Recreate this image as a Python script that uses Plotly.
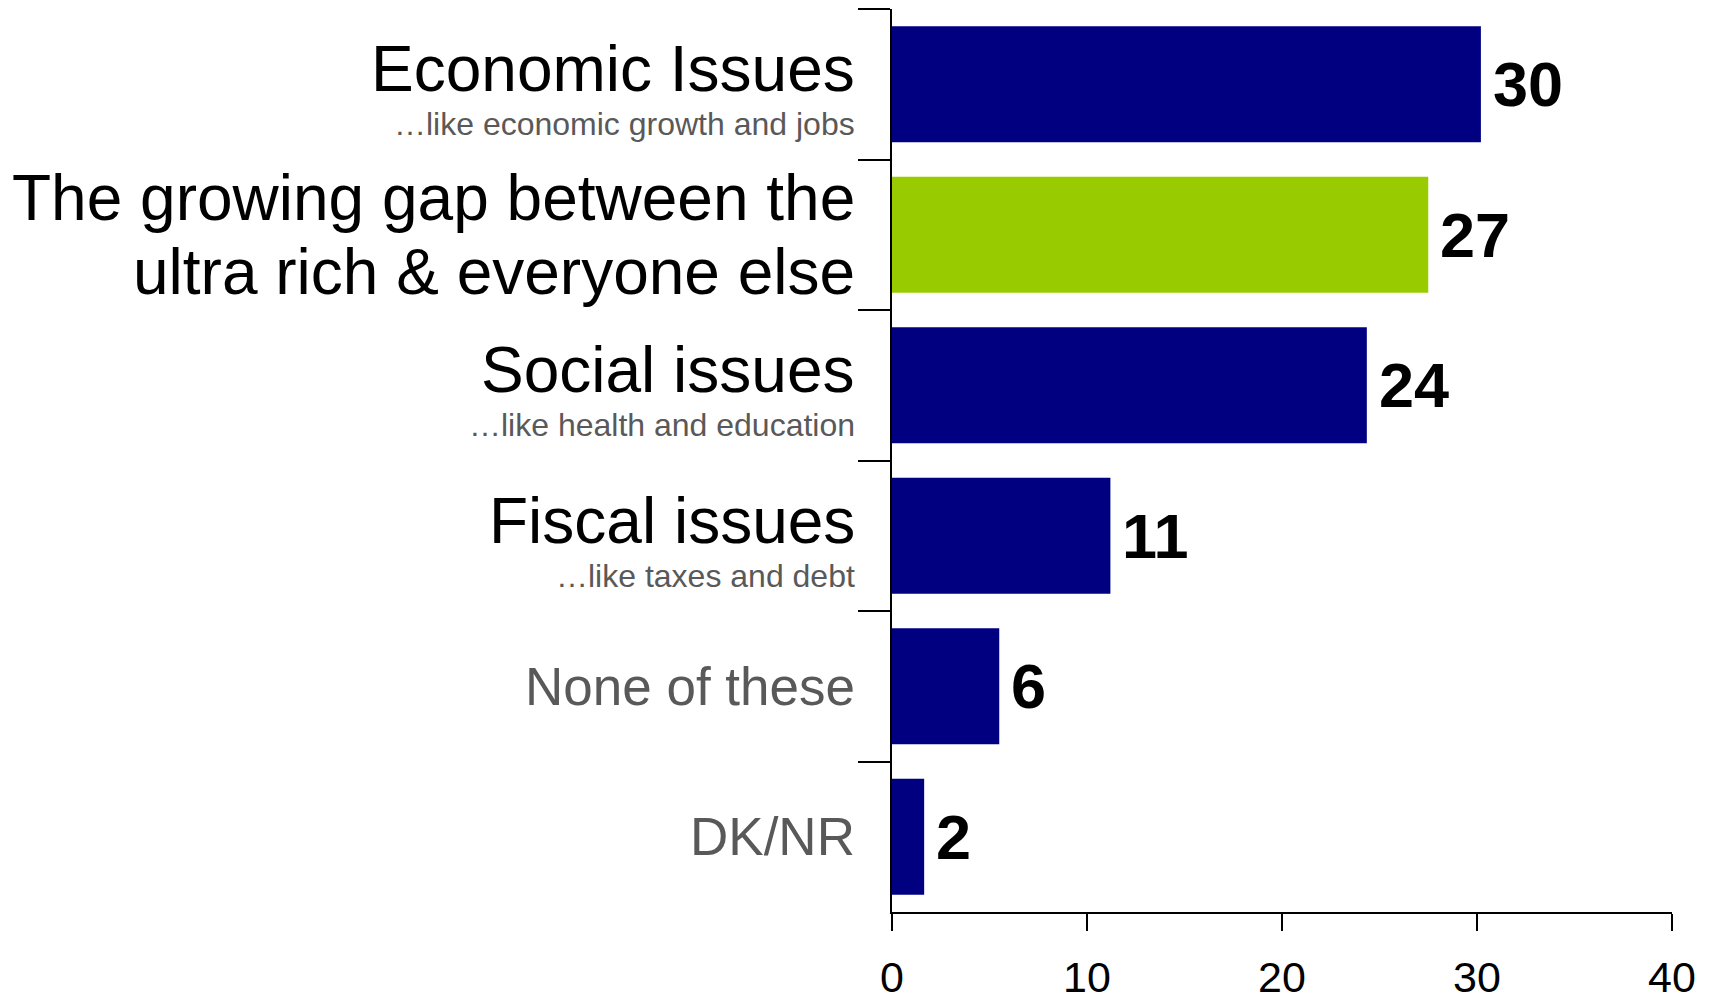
import plotly.graph_objects as go

categories = ["Economic Issues", "The growing gap", "Social issues", "Fiscal issues", "None of these", "DK/NR"]
main_lines = [
    ["Economic Issues"],
    ["The growing gap between the", "ultra rich &amp; everyone else"],
    ["Social issues"],
    ["Fiscal issues"],
    ["None of these"],
    ["DK/NR"],
]
sub_labels = ["…like economic growth and jobs", "", "…like health and education", "…like taxes and debt", "", ""]
values = [30.2, 27.5, 24.35, 11.2, 5.5, 1.65]
value_labels = ["30", "27", "24", "11", "6", "2"]
bar_colors = ["#000080", "#99CC00", "#000080", "#000080", "#000080", "#000080"]
x_ticks = [0, 10, 20, 30, 40]

FONT = "Liberation Sans, Arial, sans-serif"

fig = go.Figure(go.Bar(
    x=values, y=categories, orientation="h",
    marker=dict(color=bar_colors, line=dict(width=0)),
    width=0.77, hoverinfo="skip",
))

ann = []
for i, cat in enumerate(categories):
    lines = main_lines[i]
    gray = cat in ("None of these", "DK/NR")
    if len(lines) == 2:
        shifts = [37, -37]
    elif sub_labels[i]:
        shifts = [15]
    else:
        shifts = [0]
    for ln, sh in zip(lines, shifts):
        ann.append(dict(
            x=0, y=cat, xref="x", yref="y", text=ln, showarrow=False,
            xanchor="right", yanchor="middle", xshift=-35, yshift=sh,
            font=dict(family=FONT, size=53 if gray else 64, color="#595959" if gray else "#000000"),
        ))
    if sub_labels[i]:
        ann.append(dict(
            x=0, y=cat, xref="x", yref="y", text=sub_labels[i], showarrow=False,
            xanchor="right", yanchor="middle", xshift=-35, yshift=-40,
            font=dict(family=FONT, size=32, color="#595959"),
        ))
    ann.append(dict(
        x=values[i], y=cat, xref="x", yref="y", text="<b>" + value_labels[i] + "</b>",
        showarrow=False, xanchor="left", yanchor="middle", xshift=10,
        font=dict(family=FONT, size=63, color="#000000"),
    ))

fig.update_layout(
    template="none",
    width=1703, height=988, autosize=False,
    margin=dict(l=883.5, r=39, t=1, b=84, pad=0, autoexpand=False),
    paper_bgcolor="white", plot_bgcolor="white",
    showlegend=False, annotations=ann,
    xaxis=dict(range=[0, 40], tickvals=x_ticks, ticks="outside", ticklen=17, tickwidth=2,
               tickcolor="black", showline=True, linecolor="black", linewidth=2,
               showgrid=False, zeroline=False, ticklabelstandoff=9, automargin=False,
               tickfont=dict(family=FONT, size=43, color="black")),
    yaxis=dict(type="category", categoryorder="array", categoryarray=categories,
               autorange="reversed", showticklabels=False, ticks="outside", tickson="boundaries",
               ticklen=32, tickwidth=2, tickcolor="black", showline=True, linecolor="black",
               linewidth=2, showgrid=False, zeroline=False, automargin=False),
)

fig.write_html("out.html")
